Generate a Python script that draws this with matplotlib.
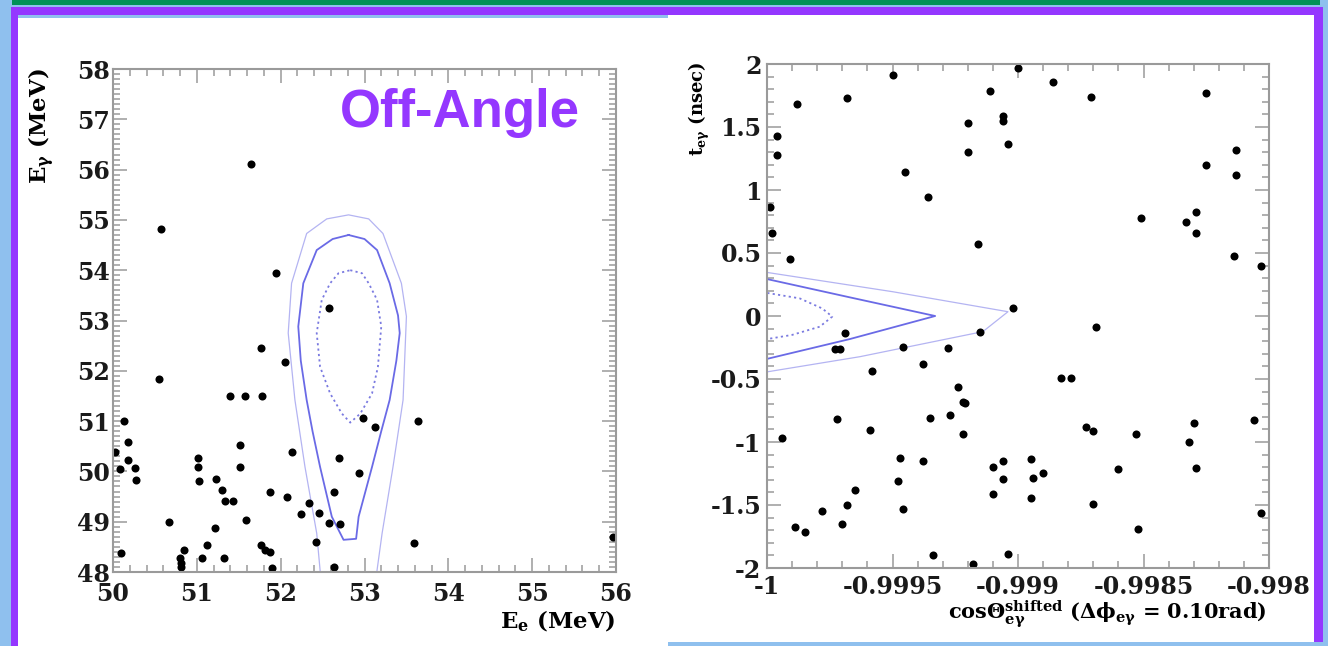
import matplotlib
matplotlib.use("Agg")
import matplotlib.pyplot as plt
from matplotlib.patches import Rectangle
from matplotlib.ticker import FixedLocator, MultipleLocator

W, H = 1328, 646

# left panel: E_e vs E_gamma
ee = [51.65, 50.57, 51.95, 52.58, 51.77, 52.05, 50.55, 51.40, 51.58, 51.78,
      50.13, 50.18, 50.02, 50.18, 50.08, 50.26, 50.28, 51.01, 51.01, 51.03,
      51.23, 51.30, 51.34, 51.43, 51.51, 51.51, 51.87, 52.07, 52.14, 50.67,
      51.59, 51.22, 51.12, 51.06, 51.32, 50.10, 50.85, 50.80, 50.81, 50.81,
      51.77, 51.81, 51.87, 51.90, 52.24, 52.34, 52.46, 52.42, 52.58, 52.71,
      52.64, 52.69, 52.93, 52.98, 53.12, 53.64, 53.59, 52.64, 55.97]
eg = [56.11, 54.82, 53.95, 53.24, 52.45, 52.17, 51.83, 51.50, 51.50, 51.50,
      51.01, 50.59, 50.39, 50.23, 50.04, 50.07, 49.83, 50.27, 50.09, 49.80,
      49.85, 49.63, 49.41, 49.41, 50.52, 50.09, 49.60, 49.50, 50.39, 48.99,
      49.03, 48.87, 48.54, 48.27, 48.27, 48.38, 48.44, 48.27, 48.17, 48.09,
      48.54, 48.44, 48.40, 48.08, 49.15, 49.37, 49.17, 48.59, 48.98, 48.95,
      49.60, 50.26, 49.96, 51.07, 50.88, 51.01, 48.58, 48.09, 48.70]

# contour outlines
in_x = [52.83, 52.97, 53.05, 53.15, 53.20, 53.16, 53.09, 52.95, 52.83, 52.73,
        52.59, 52.47, 52.43, 52.49, 52.59, 52.69, 52.83]
in_y = [54.00, 53.94, 53.74, 53.41, 52.88, 52.08, 51.55, 51.15, 50.97, 51.15,
        51.55, 52.08, 52.75, 53.41, 53.74, 53.94, 54.00]
mid_x = [52.81, 53.00, 53.15, 53.30, 53.40, 53.42, 53.38, 53.30, 53.20, 53.09,
         52.93, 52.90, 52.75, 52.61, 52.47, 52.38, 52.31, 52.24, 52.21, 52.27,
         52.43, 52.62, 52.81]
mid_y = [54.70, 54.62, 54.40, 53.74, 53.10, 52.75, 52.20, 51.42, 50.80, 50.09,
         49.10, 48.66, 48.64, 49.10, 50.09, 50.80, 51.42, 52.20, 52.88, 53.74,
         54.40, 54.62, 54.70]
out_x = [52.48, 52.47, 52.43, 52.29, 52.17, 52.09, 52.13, 52.31, 52.55, 52.81,
         53.05, 53.22, 53.44, 53.50, 53.46, 53.34, 53.21, 53.15, 53.13]
out_y = [47.80, 48.04, 48.77, 50.09, 51.42, 52.75, 53.74, 54.73, 55.02, 55.10,
         55.02, 54.73, 53.74, 53.08, 51.42, 50.09, 48.77, 48.04, 47.80]

# right panel: cos(theta) vs t_egamma
cos_t = [-0.99950, -0.99968, -0.99988, -0.99996, -0.99996, -0.99999, -0.99998,
         -0.99991, -0.99945, -0.99936, -0.99916, -0.99920, -0.99920, -0.99911,
         -0.99969, -0.99973, -0.99971, -0.99946, -0.99928, -0.99915, -0.99902,
         -0.99938, -0.99958, -0.99924, -0.99922, -0.99921, -0.99927, -0.99935,
         -0.99972, -0.99922, -0.99959, -0.99994, -0.99947, -0.99938, -0.99910,
         -0.99948, -0.99910, -0.99965, -0.99968, -0.99978, -0.99946, -0.99970,
         -0.99989, -0.99985, -0.99934, -0.99918, -0.99883, -0.99879, -0.99873,
         -0.99870, -0.99853, -0.99860, -0.99870, -0.99852, -0.99830, -0.99832,
         -0.99829, -0.99806, -0.99803, -0.99904, -0.99906, -0.99906, -0.99895,
         -0.99894, -0.99890, -0.99895, -0.99900, -0.99886, -0.99871, -0.99906,
         -0.99906, -0.99904, -0.99825, -0.99813, -0.99825, -0.99813, -0.99851,
         -0.99829, -0.99833, -0.99829, -0.99814, -0.99803, -0.99869]
t_eg = [1.913, 1.728, 1.683, 1.429, 1.278, 0.868, 0.656, 0.450, 1.145, 0.947,
        0.569, 1.529, 1.299, 1.788, -0.132, -0.265, -0.265, -0.244, -0.250,
        -0.130, 0.061, -0.383, -0.434, -0.566, -0.680, -0.693, -0.786, -0.812,
        -0.820, -0.937, -0.905, -0.971, -1.124, -1.148, -1.196, -1.307, -1.413,
        -1.381, -1.500, -1.545, -1.534, -1.653, -1.677, -1.717, -1.899, -1.971,
        -0.492, -0.492, -0.883, -0.910, -0.937, -1.217, -1.490, -1.690, -0.852,
        -1.002, -1.209, -0.825, -1.561, -1.889, -1.148, -1.296, -1.137, -1.288,
        -1.248, -1.447, 1.966, 1.860, 1.735, 1.587, 1.548, 1.365, 1.767, 1.317,
        1.196, 1.117, 0.775, 0.828, 0.749, 0.661, 0.479, 0.400, -0.090]

r_in_x = [-1.00002, -0.99987, -0.99978, -0.99974, -0.99979, -0.99990, -1.00002]
r_in_y = [0.19, 0.14, 0.06, -0.005, -0.085, -0.15, -0.19]
r_mid_x = [-1.00002, -0.99967, -0.99933, -0.99967, -1.00002]
r_mid_y = [0.302, 0.148, 0.0, -0.183, -0.35]
r_out_x = [-1.00002, -0.99950, -0.99904, -0.99914, -0.99963, -1.00002]
r_out_y = [0.352, 0.193, 0.034, -0.124, -0.323, -0.45]

r_xticks = [-1, -0.9995, -0.999, -0.9985, -0.998]
r_xlabels = ['-1', '-0.9995', '-0.999', '-0.9985', '-0.998']
r_yticks = [-2, -1.5, -1, -0.5, 0, 0.5, 1, 1.5, 2]
r_ylabels = ['-2', '-1.5', '-1', '-0.5', '0', '0.5', '1', '1.5', '2']

plt.rcParams['font.family'] = ['DejaVu Serif']
plt.rcParams['font.weight'] = 'bold'
plt.rcParams['mathtext.fontset'] = 'dejavuserif'
plt.rcParams['mathtext.default'] = 'bf'

light_blue = '#8fc0ee'
purple = '#9437ff'
grey = '#9a9a9a'

fig = plt.figure(figsize=(W / 100, H / 100), dpi=100, facecolor=light_blue)


def fx(x):
    return x / W


def fy(y):
    return 1 - y / H


# slide frame
bg = fig.add_axes([0, 0, 1, 1], zorder=-5)
bg.set_xlim(0, W)
bg.set_ylim(H, 0)
bg.axis('off')
bg.add_patch(Rectangle((12, 0), 1308, 4.5, color='#009158', lw=0))
bg.add_patch(Rectangle((11, 7), 1312, 8, color=purple, lw=0))
bg.add_patch(Rectangle((11, 7), 7, 639, color=purple, lw=0))
bg.add_patch(Rectangle((1314, 7), 9, 635, color=purple, lw=0))
bg.add_patch(Rectangle((18, 18), 650, 628, color='white', lw=0))
bg.add_patch(Rectangle((668, 15), 646, 627, color='white', lw=0))


def style_axes(ax):
    for s in ax.spines.values():
        s.set_color(grey)
        s.set_linewidth(1.5)
    ax.tick_params(which='both', direction='in', top=True, right=True,
                   color=grey, width=1.1, labelsize=17, labelcolor='#1a1a1a')
    ax.tick_params(which='major', length=10)
    ax.tick_params(which='minor', length=5)


ax1 = fig.add_axes([fx(113), fy(572), 503 / W, 503 / H])
ax1.plot(out_x, out_y, color='#b4b4f2', lw=0.9)
ax1.plot(mid_x, mid_y, color='#6a6ae6', lw=1.3)
ax1.plot(in_x, in_y, color='#7a7ae0', lw=1.3, linestyle=(0, (1.2, 1.8)))
ax1.plot(ee, eg, 'o', color='black', ms=5.8, mec='none')
ax1.set_xlim(50, 56)
ax1.set_ylim(48, 58)
ax1.xaxis.set_major_locator(MultipleLocator(1))
ax1.xaxis.set_minor_locator(MultipleLocator(0.2))
ax1.yaxis.set_major_locator(MultipleLocator(1))
ax1.yaxis.set_minor_locator(MultipleLocator(0.1))
style_axes(ax1)
ax1.tick_params(axis='x', pad=7)
ax1.tick_params(axis='y', pad=2)

fig.text(fx(42), fy(68), r'E$_{\gamma}$ (MeV)', rotation=90, ha='center',
         va='top', fontsize=16.5)
fig.text(fx(615), fy(621), r'E$_{e}$ (MeV)', ha='right', va='center',
         fontsize=16.5)
fig.text(fx(460), fy(127), 'Off-Angle', family='Liberation Sans',
         weight='bold', fontsize=38, color=purple, ha='center',
         va='baseline')

ax2 = fig.add_axes([fx(767), fy(568), 502 / W, 504 / H])
ax2.plot(r_out_x, r_out_y, color='#b4b4f2', lw=0.9)
ax2.plot(r_mid_x, r_mid_y, color='#6a6ae6', lw=1.3)
ax2.plot(r_in_x, r_in_y, color='#7a7ae0', lw=1.3, linestyle=(0, (1.2, 1.8)))
ax2.plot(cos_t, t_eg, 'o', color='black', ms=5.8, mec='none')
ax2.set_xlim(-1, -0.998)
ax2.set_ylim(-2, 2)
ax2.xaxis.set_major_locator(FixedLocator(r_xticks))
ax2.set_xticklabels(r_xlabels)
ax2.xaxis.set_minor_locator(MultipleLocator(0.0001))
ax2.yaxis.set_major_locator(FixedLocator(r_yticks))
ax2.set_yticklabels(r_ylabels)
ax2.yaxis.set_minor_locator(MultipleLocator(0.1))
style_axes(ax2)
ax2.tick_params(axis='x', pad=5)
ax2.tick_params(axis='y', pad=4)

fig.text(fx(699), fy(62), r't$_{e\gamma}$ (nsec)', rotation=90, ha='center',
         va='top', fontsize=13)
fig.text(fx(1267), fy(614),
         r'cos$\Theta^{\rm shifted}_{e\gamma}$ ($\Delta\phi_{e\gamma}$ = 0.10rad)',
         ha='right', va='center', fontsize=15)

fig.savefig('out.png', dpi=100, facecolor=light_blue)
